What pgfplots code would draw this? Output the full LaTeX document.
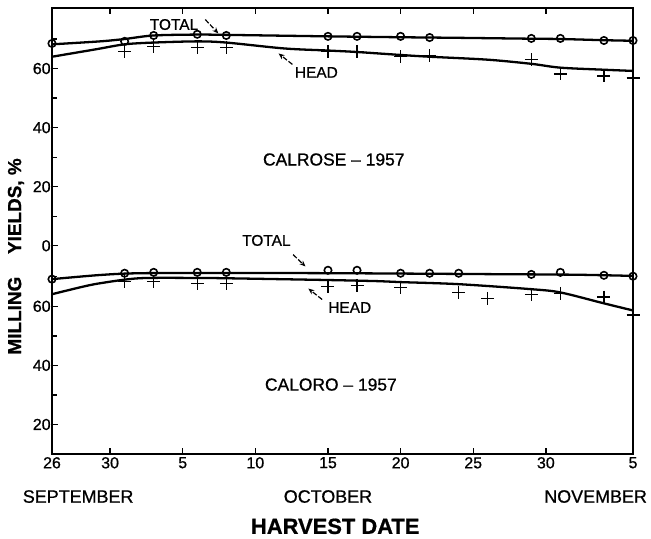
\documentclass[border=0pt]{standalone}
\usepackage{pgfplots}
\pgfplotsset{compat=1.18}
\usepackage{pgfplotstable}
\usepackage{fontspec}
\setmainfont{Liberation Sans}[FakeBold=0.8]
\usetikzlibrary{arrows.meta}

% day = days after 26 September 1957
\pgfplotstableread{
x y
0 68.2
3.3 69.2
5 70.0
7 71.2
10 71.5
12 71.4
19 70.9
24 70.6
28 70.4
33 70.1
35 70.0
38 69.6
40 69.4
}\topTotalCurve
\pgfplotstableread{
x y
0 64.0
3 66.5
5 68.2
7 68.8
10 69.2
12 68.8
16 66.8
19 66.1
21 65.6
24 64.6
26 64.0
30 63.0
33 61.6
35 60.3
38 59.6
40 59.2
}\topHeadCurve
\pgfplotstableread{
x y
0 68.5
5 69.2
7 71.2
10 71.6
12 71.2
19 70.9
21 70.9
24 70.9
26 70.5
33 70.2
35 70.2
38 69.5
40 69.5
}\topTotalPts
\pgfplotstableread{
x y
5 65.8
7 67.5
10 67.1
12 67.1
19 65.8
21 65.8
24 64.0
26 64.4
33 63.0
35 58.2
38 57.5
40 56.8
}\topHeadPts
\pgfplotstableread{
x y
0 69.2
3.3 70.6
6 71.2
12 71.3
20 71.2
30 70.9
36 70.7
40 70.3
}\botTotalCurve
\pgfplotstableread{
x y
0 64.1
2 66.5
3.3 67.8
6 69.5
10 69.6
12 69.5
19 68.9
22.6 68.5
24 68.2
28 67.5
33 65.8
35 64.7
38 61.0
40 58.6
}\botHeadCurve
\pgfplotstableread{
x y
0 69.2
5 71.2
7 71.5
10 71.5
12 71.5
19 72.2
21 72.2
24 71.2
26 71.2
28 71.2
33 70.8
35 71.5
38 70.5
40 70.2
}\botTotalPts
\pgfplotstableread{
x y
5 68.5
7 68.5
10 67.8
12 67.8
19 66.8
21 67.1
24 66.4
28 64.7
30 62.7
33 64.1
35 64.4
38 63.1
40 57.0
}\botHeadPts

\begin{document}
\begin{tikzpicture}
\path[use as bounding box] (-52bp,-85bp) rectangle (599bp,454bp);
\begin{axis}[
  scale only axis, width=581bp, height=446bp,
  xmin=0, xmax=40, ymin=10, ymax=161,
  axis line style={line width=1.7pt},
  xtick={0,4,9,14,19,24,29,34,40},
  xticklabels={26,30,5,10,15,20,25,30,5},
  ytick={20,40,60,80.5,100.5,120.5,140.5},
  yticklabels={20,40,60,0,20,40,60},
  minor ytick={30,50,70,90.5,110.5,130.5,150.5},
  ytick pos=left,
  tick align=inside,
  major tick length=6bp, minor tick length=5bp,
  every tick/.style={line width=1.3pt, black},
  tick label style={font=\fontsize{16}{17}\selectfont},
  yticklabel style={inner sep=1.2pt},
  xticklabel style={inner sep=3pt},
  /pgf/number format/assume math mode=true,
  clip=false,
]
% top panel (CALROSE), shifted by 80.5
\addplot[line width=2.3pt, smooth, tension=0.5] table[x=x, y expr=\thisrow{y}+80.5] {\topTotalCurve};
\addplot[line width=2.3pt, smooth, tension=0.5] table[x=x, y expr=\thisrow{y}+80.5] {\topHeadCurve};
\addplot[only marks, mark=o, mark size=3.7bp, mark options={line width=1.6pt}] table[x=x, y expr=\thisrow{y}+80.5] {\topTotalPts};
\addplot[only marks, mark=+, mark size=6.5bp, mark options={line width=1.4pt}] table[x=x, y expr=\thisrow{y}+80.5] {\topHeadPts};
% bottom panel (CALORO)
\addplot[line width=2.3pt, smooth, tension=0.5] table[x=x, y=y] {\botTotalCurve};
\addplot[line width=2.3pt, smooth, tension=0.5] table[x=x, y=y] {\botHeadCurve};
\addplot[only marks, mark=o, mark size=3.7bp, mark options={line width=1.6pt}] table[x=x, y=y] {\botTotalPts};
\addplot[only marks, mark=+, mark size=6.5bp, mark options={line width=1.4pt}] table[x=x, y=y] {\botHeadPts};

% annotations
\node[font=\fontsize{15.5}{16}\selectfont] at (axis cs:8.4,155.4) {TOTAL};
\draw[-{Stealth[length=6bp,width=5bp]}, line width=1.2pt, dash pattern=on 5bp off 2bp] (axis cs:10.55,157.1) -- (axis cs:11.45,152.4);
\node[font=\fontsize{15.5}{16}\selectfont] at (axis cs:18.2,139.2) {HEAD};
\draw[-{Stealth[length=6bp,width=5bp]}, line width=1.2pt, dash pattern=on 5bp off 2bp] (axis cs:16.55,141.9) -- (axis cs:15.6,145.6);
\node[font=\fontsize{15.5}{16}\selectfont] at (axis cs:14.76,82.3) {TOTAL};
\draw[-{Stealth[length=6bp,width=5bp]}, line width=1.2pt, dash pattern=on 5bp off 2bp] (axis cs:16.6,77.5) -- (axis cs:17.45,73.5);
\node[font=\fontsize{15.5}{16}\selectfont] at (axis cs:20.5,59.6) {HEAD};
\draw[-{Stealth[length=6bp,width=5bp]}, line width=1.2pt, dash pattern=on 5bp off 2bp] (axis cs:18.6,62.3) -- (axis cs:17.65,66.0);

\node[font=\fontsize{17.5}{18}\selectfont] at (axis cs:19.4,109.7) {CALROSE -- 1957};
\node[font=\fontsize{17.5}{18}\selectfont] at (axis cs:19.2,33.5) {CALORO -- 1957};

% month labels and axis titles
\node[font=\fontsize{18}{19}\selectfont] at (axis cs:1.8,-4.4) {SEPTEMBER};
\node[font=\fontsize{18}{19}\selectfont] at (axis cs:19.0,-4.4) {OCTOBER};
\node[font=\fontsize{18}{19}\selectfont, anchor=east] at (axis cs:41.2,-4.4) {NOVEMBER};
\node[font=\bfseries\fontsize{22}{23}\selectfont] at (axis cs:19.5,-14.5) {HARVEST DATE};
\node[font=\bfseries\fontsize{19}{20}\selectfont, rotate=90] at (axis cs:-2.48,76.9) {MILLING\hspace{1.2em}YIELDS, \%};
\end{axis}
\end{tikzpicture}
\end{document}
